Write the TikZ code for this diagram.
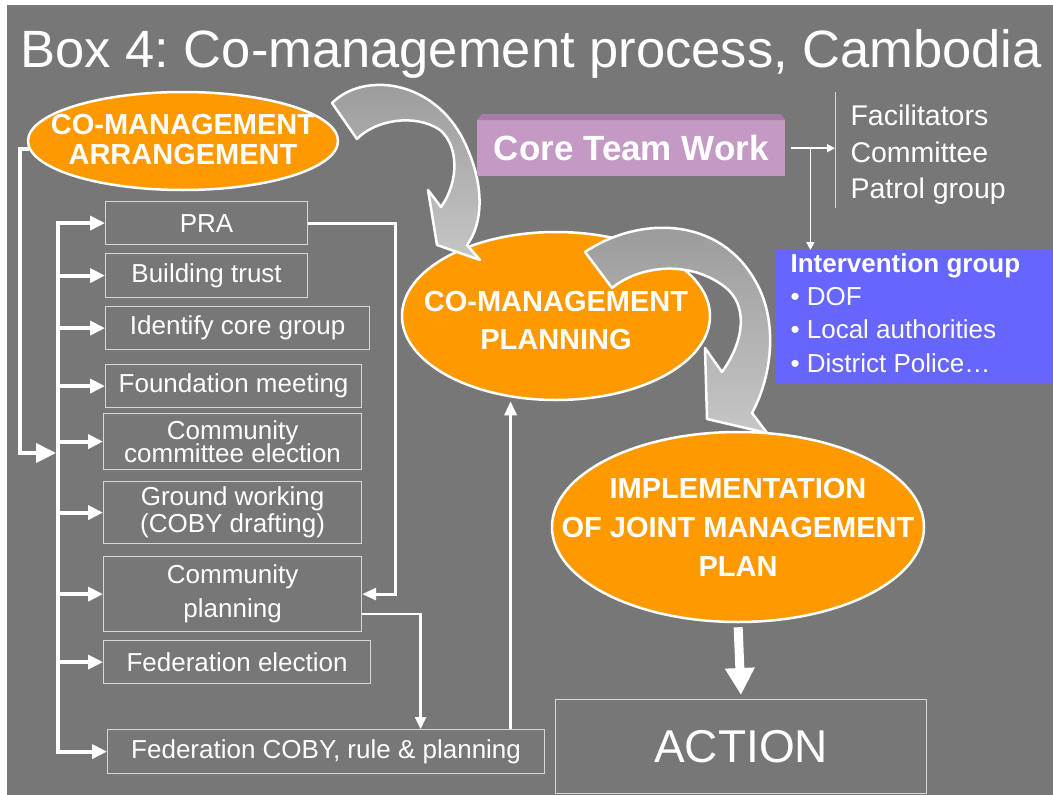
\documentclass[tikz,border=0pt]{standalone}
\usepackage{fontspec}
\setmainfont{Liberation Sans}
\usepackage{tikz}
\usetikzlibrary{shapes.geometric}
\usetikzlibrary{arrows.meta}
\usetikzlibrary{positioning}
\frenchspacing

\definecolor{slide}{HTML}{777777}
\definecolor{mgmt}{HTML}{FF9900}
\definecolor{teamfill}{HTML}{C499C4}
\definecolor{teamtop}{HTML}{A57DA5}
\definecolor{intervfill}{HTML}{6666FF}
\definecolor{boxline}{HTML}{D6D6D6}
\definecolor{bendstart}{HTML}{999999}
\definecolor{bendend}{HTML}{C6C6C6}

\begin{document}
\begin{tikzpicture}[x=1pt, y=-1pt,
    oval/.style={ellipse, draw=white, line width=2.5pt, fill=mgmt, inner sep=0pt},
    ovaltext/.style={text=white, align=center, font=\bfseries\fontsize{29}{30}\selectfont},
    stepbox/.style={draw=boxline, line width=1.2pt, anchor=north west, inner sep=0pt, text=white, align=center, font=\fontsize{26}{27}\selectfont},
    bendarrow/.style={draw=white, line width=2.5pt, line join=round, top color=bendstart, bottom color=bendend},
    bracketarrow/.style={draw=white, line width=4pt, -{Triangle[width=19pt,length=20pt]}},
    brancharrow/.style={draw=white, line width=4pt, -{Triangle[width=14pt,length=15pt]}},
    feedarrow/.style={draw=white, line width=3pt, -{Triangle[width=12pt,length=14pt]}},
    thinarrow/.style={draw=white, line width=1.5pt, -{Triangle[width=8pt,length=8pt]}},
    fatarrow/.style={draw=white, line width=9pt, -{Triangle[width=28pt,length=27pt]}},
    membertext/.style={anchor=base west, text=white, font=\fontsize{28.5}{30}\selectfont},
    bluetext/.style={anchor=base west, text=white, font=\fontsize{26}{30}\selectfont}]
    \useasboundingbox (0,0) rectangle (1053,795);
    \fill[white] (0,0) rectangle (1053,795);
    \fill[slide] (7,5) rectangle (1053,795);

    \node[anchor=base west, text=white, font=\fontsize{52.5}{60}\selectfont] (title) at (17,67) {Box 4: Co-management process, Cambodia};

    \node[oval, minimum width=310pt, minimum height=98pt] (arrange) at (183,141) {};
    \node[oval, minimum width=308pt, minimum height=168pt] (plan) at (556,316) {};
    \node[oval, minimum width=372pt, minimum height=190pt] (impl) at (738,527) {};

    \draw[bendarrow] (332,103) .. controls (365,70) and (440,80) .. (468,150) .. controls (485,190) and (482,225) .. (467,245) -- (480,260) -- (437,245) -- (428,190) -- (441,207) .. controls (460,180) and (458,145) .. (440,130) .. controls (415,113) and (375,120) .. (357,139) -- cycle;
    \draw[bendarrow] (585,252) .. controls (640,215) and (725,215) .. (760,290) .. controls (778,330) and (770,380) .. (752,413) -- (767,433) -- (707,419) -- (705,348) -- (722,372) .. controls (745,340) and (748,305) .. (725,287) .. controls (690,260) and (640,265) .. (612,288) -- cycle;

    \node[ovaltext] (arrangetext) at (183,140) {CO-MANAGEMENT\\ARRANGEMENT};
    \node[ovaltext, font=\bfseries\fontsize{29}{38}\selectfont] (plantext) at (556,321) {CO-MANAGEMENT\\PLANNING};
    \node[ovaltext, font=\bfseries\fontsize{29}{39}\selectfont] (impltext) at (738,527) {IMPLEMENTATION\\OF JOINT MANAGEMENT\\PLAN};

    \node[anchor=north west, fill=teamfill, minimum width=308pt, minimum height=56pt, inner sep=0pt, text=white, font=\bfseries\fontsize{35}{40}\selectfont] (team) at (477,120) {Core Team Work};
    \fill[teamtop] (team.north west) -- ++(5,-6) -- ([xshift=-5pt,yshift=6pt]team.north east) -- (team.north east) -- cycle;

    \coordinate (septop) at (835,92);
    \coordinate (sepbot) at (835,208);
    \draw[boxline, line width=1pt] (septop) -- (sepbot);
    \node[membertext] (facil) at (847,125) {Facilitators};
    \node[membertext] (commit) at (847,162) {Committee};
    \node[membertext] (patrol) at (847,198) {Patrol group};

    \node[anchor=north west, fill=intervfill, minimum width=277pt, minimum height=133pt, inner sep=0pt] (interv) at (776,250) {};
    \node[bluetext, font=\bfseries\fontsize{26}{30}\selectfont] (intervhead) at (787,272) {Intervention group};
    \node[bluetext] (dof) at (787,305) {• DOF};
    \node[bluetext] (local) at (787,338) {• Local authorities};
    \node[bluetext] (police) at (787,372) {• District Police…};

    \draw[thinarrow, shorten <=6pt] (team.east) -- (team.east -| septop);
    \draw[thinarrow] ([xshift=25pt]team.east) -- ([xshift=25pt]team.east |- interv.north);

    \node[stepbox, minimum width=202pt, minimum height=43pt] (pra) at (105,201) {PRA};
    \node[stepbox, minimum width=202pt, minimum height=44pt] (trust) at (105,253) {Building trust};
    \node[stepbox, minimum width=264pt, minimum height=43pt] (coregroup) at (105,306) {Identify core group};
    \node[stepbox, minimum width=256pt, minimum height=43pt] (found) at (105,364) {Foundation meeting};
    \node[stepbox, minimum width=258pt, minimum height=56pt, font={\fontsize{26}{23}\selectfont\lineskiplimit=-20pt}] (commelect) at (103,413) {Community\\committee election};
    \node[stepbox, minimum width=258pt, minimum height=62pt] (ground) at (103,481) {Ground working\\(COBY drafting)};
    \node[stepbox, minimum width=258pt, minimum height=75pt, font=\fontsize{26}{34}\selectfont] (cplan) at (103,556) {Community\\planning};
    \node[stepbox, minimum width=267pt, minimum height=43pt] (fedelect) at (103,640) {Federation election};
    \node[stepbox, minimum width=437pt, minimum height=44pt] (fedcoby) at (107,729) {Federation COBY, rule \& planning};

    \coordinate (bus) at (58,0);
    \coordinate (outerbus) at (20,453);
    \coordinate (busend) at (56,453);
    \draw[bracketarrow] (arrange.183) -| (outerbus) -- (busend);
    \draw[white, line width=4pt, line cap=rect] (pra.west -| bus) -- (fedcoby.west -| bus);
    \draw[brancharrow] (pra.west -| bus) -- (pra.west);
    \draw[brancharrow] (trust.west -| bus) -- (trust.west);
    \draw[brancharrow] (coregroup.west -| bus) -- (coregroup.west);
    \draw[brancharrow] (found.west -| bus) -- (found.west);
    \draw[brancharrow] (commelect.west -| bus) -- (commelect.west);
    \draw[brancharrow] (ground.west -| bus) -- (ground.west);
    \draw[brancharrow] (cplan.west -| bus) -- (cplan.west);
    \draw[brancharrow] (fedelect.west -| bus) -- (fedelect.west);
    \draw[brancharrow] (fedcoby.west -| bus) -- (fedcoby.west);

    \draw[feedarrow] (pra.east) -- ++(87,0) |- (cplan.east);
    \draw[white, line width=2.5pt, -{Triangle[width=11pt,length=12pt]}] ([yshift=-20pt]cplan.east) -| ([xshift=94.5pt]fedcoby.north);
    \draw[feedarrow] ([xshift=184.5pt]fedcoby.north) -- ([xshift=184.5pt]fedcoby.north |- plan.south);

    \node[stepbox, minimum width=371pt, minimum height=94pt, font=\fontsize{46}{50}\selectfont] (action) at (555,699) {ACTION};
    \draw[fatarrow, shorten <=4pt, shorten >=4pt] (impl.south) -- (action.north);
\end{tikzpicture}
\end{document}
